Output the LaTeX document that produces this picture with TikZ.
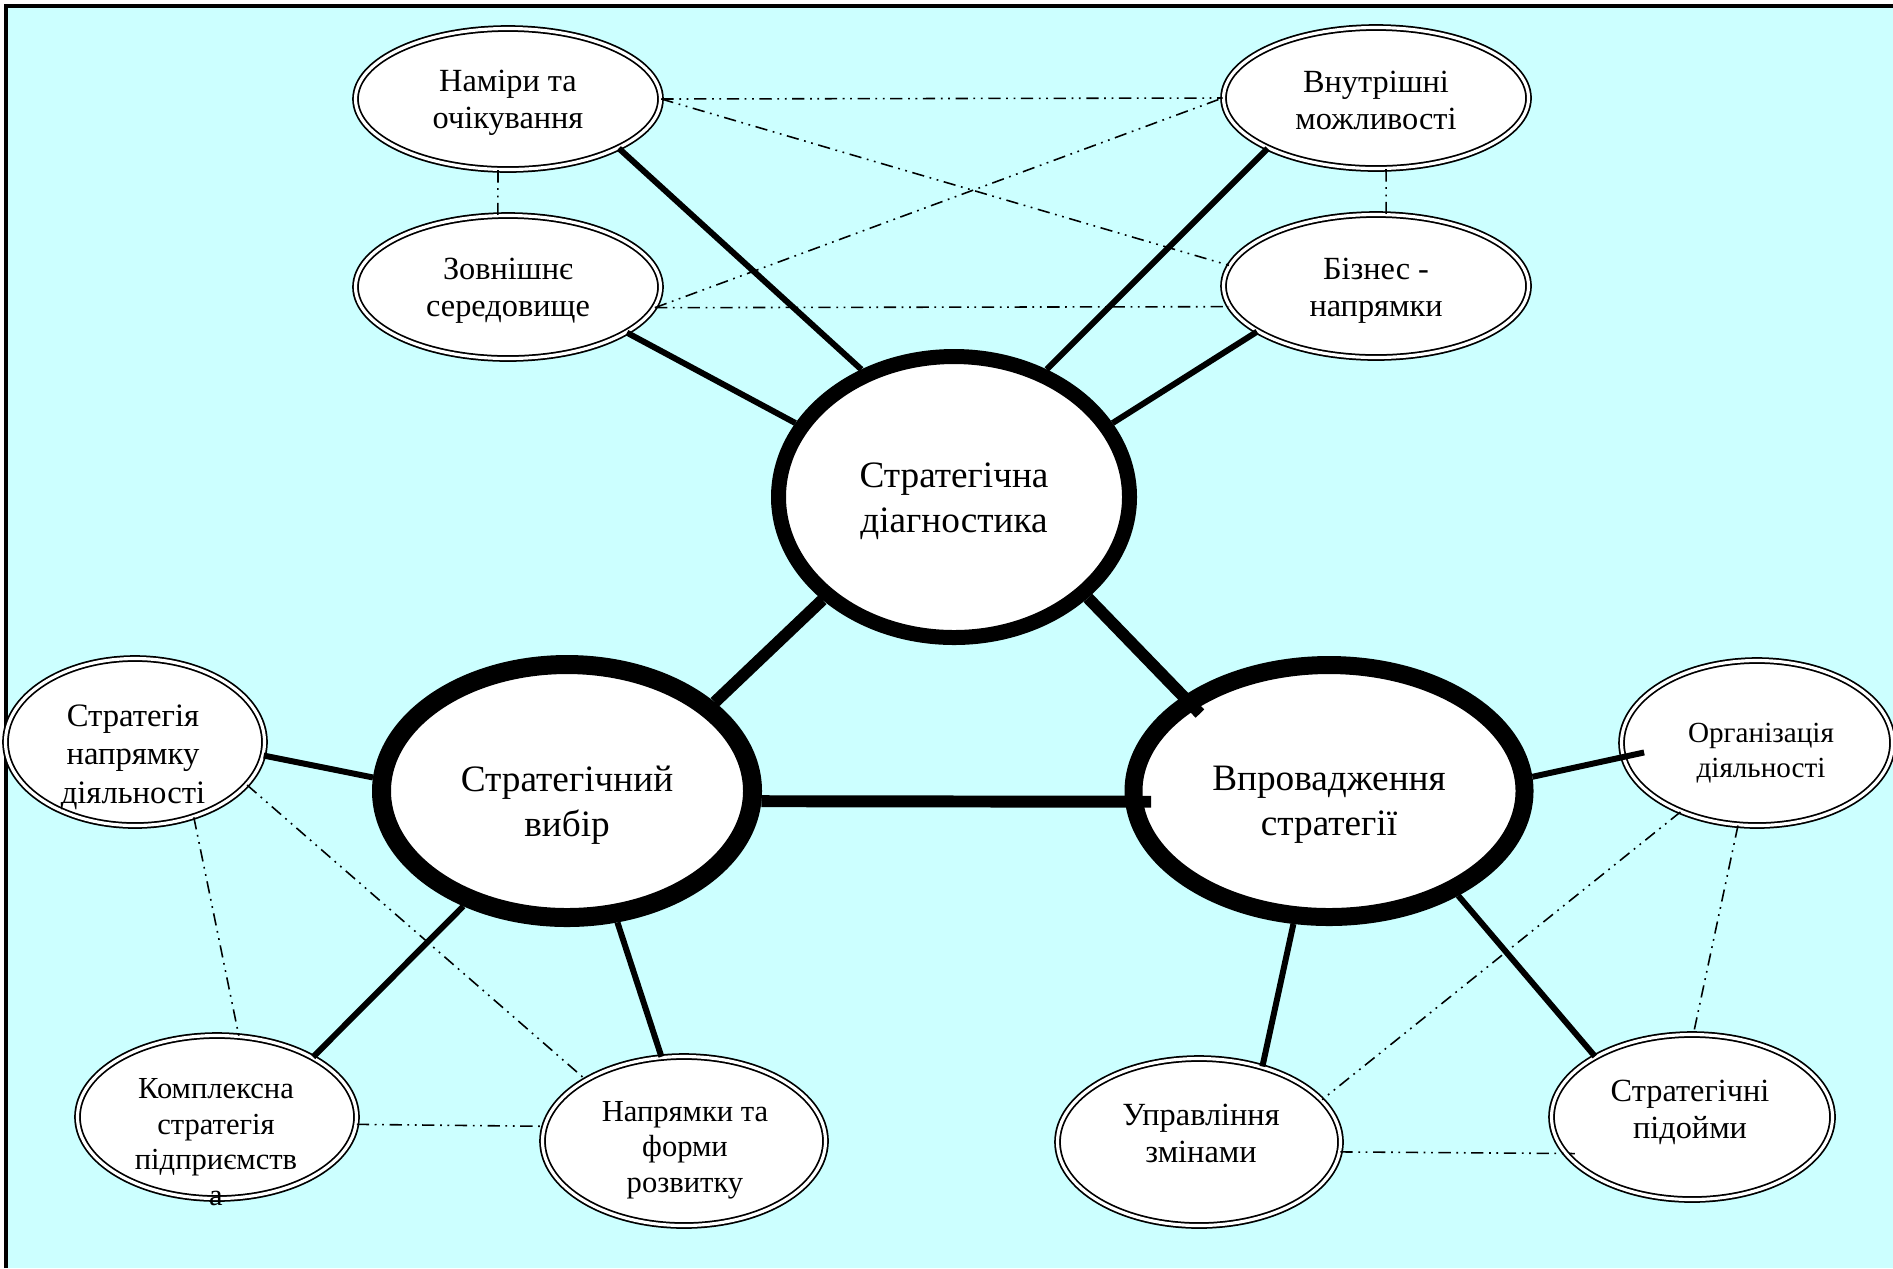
\documentclass[tikz,border=0pt]{standalone}
\usepackage{fontspec}
\setmainfont{Liberation Serif}
\usetikzlibrary{shapes.geometric}
\definecolor{bgcyan}{RGB}{204,255,255}
\tikzset{
  sat/.style={ellipse, draw, double=white, double distance=0.9pt, line width=0.5pt, fill=white, inner sep=0pt},
  hub/.style={ellipse, draw, fill=white, inner sep=0pt},
  txt/.style={align=center, inner sep=0pt},
  spoke/.style={line width=1.7pt},
  bar/.style={line width=3.4pt},
  ddot/.style={line width=0.45pt, dash pattern=on 3.5pt off 1.6pt on 0.5pt off 1.6pt on 0.5pt off 1.6pt},
  ftop/.style={font=\fontsize{9.2pt}{10.5pt}\selectfont},
  fhub/.style={font=\fontsize{10.6pt}{12.7pt}\selectfont},
  fsone/.style={font=\fontsize{9.3pt}{11pt}\selectfont},
  fsmall/.style={font=\fontsize{8.7pt}{10.1pt}\selectfont},
  fo/.style={font=\fontsize{8.3pt}{9.9pt}\selectfont},
}
\begin{document}
\begin{tikzpicture}[x=0.1mm,y=-0.1mm]
\useasboundingbox (0,0) rectangle (1893,1268);
\fill[bgcyan] (6,6) rectangle (1893,1268);
\draw[line width=0.4mm] (6,1268) -- (6,6) -- (1893,6);

% hubs
\node[hub, line width=1.5mm, minimum width=35.1mm, minimum height=28.1mm] (D) at (954,497) {};
\node[hub, line width=1.9mm, minimum width=37.1mm, minimum height=25.3mm] (V) at (567,791) {};
\node[hub, line width=1.8mm, minimum width=39.1mm, minimum height=25.2mm] (P) at (1329,791) {};

% satellites
\node[sat, minimum width=30.5mm, minimum height=14.1mm] (N1) at (508,99) {};
\node[sat, minimum width=30.5mm, minimum height=14.3mm] (N2) at (508,287) {};
\node[sat, minimum width=30.5mm, minimum height=14.1mm] (N3) at (1376,98) {};
\node[sat, minimum width=30.5mm, minimum height=14.3mm] (N4) at (1376,286) {};
\node[sat, minimum width=25.9mm, minimum height=16.7mm] (S1) at (135,742) {};
\node[sat, minimum width=27.9mm, minimum height=16.3mm] (K) at (217,1117) {};
\node[sat, minimum width=28.3mm, minimum height=16.9mm] (NF) at (684,1141) {};
\node[sat, minimum width=27.1mm, minimum height=16.5mm] (O) at (1757,743) {};
\node[sat, minimum width=28.3mm, minimum height=16.7mm] (U) at (1199,1142) {};
\node[sat, minimum width=28.1mm, minimum height=16.5mm] (SP) at (1692,1117) {};

% spokes
\draw[spoke] (N1.-24) -- (D.126);
\draw[spoke] (N2.-21) -- (D.155);
\draw[spoke] (N3.-155) -- (D.54.5);
\draw[spoke] (N4.-159) -- (D.25);
\draw[bar] (D.-142) -- (V.31.6);
\draw[bar, shorten >=-2.4mm] (D.-37) -- (P.147.6);
\draw[bar, shorten >=-2.6mm] (V.-3) -- (P.183);
\draw[spoke] (V.176) -- (S1.-6);
\draw[spoke] (V.-132) -- (K.32);
\draw[spoke] (V.-69) -- (NF.105);
\draw[spoke, shorten >=-2.2mm] (P.4) -- (O.186);
\draw[spoke] (P.-105) -- (U.50);
\draw[spoke] (P.-39.4) -- (SP.148.6);

% dash-dot-dot links
\draw[ddot] (N1.0) -- (N3.180);
\draw[ddot] (N1.0) -- (N4.172);
\draw[ddot] (N2.-8) -- (N3.180);
\draw[ddot] (N2.-8) -- (N4.188);
\draw[ddot] (N1.-98) -- (N2.98);
\draw[ddot] (N3.-82) -- (N4.82);
\draw[ddot] (S1.-52) -- (K.75);
\draw[ddot] (S1.-21) -- (NF.148);
\draw[ddot] (K.-3) -- (NF.174);
\draw[ddot] (O.-138) -- (U.19);
\draw[ddot] (O.-103) -- (SP.89);
\draw[ddot, shorten >=-1mm] (U.-4) -- (SP.196);

% texts
\node[txt, ftop] (N1t) at (508,103) {Наміри та\\очікування};
\node[txt, ftop] (N2t) at (508,291) {Зовнішнє\\середовище};
\node[txt, ftop] (N3t) at (1376,100) {Внутрішні\\можливості};
\node[txt, ftop] (N4t) at (1376,291) {Бізнес -\\напрямки};
\node[txt, fhub] (Dt) at (954,501) {Стратегічна\\діагностика};
\node[txt, fhub] (Vt) at (567,805) {Стратегічний\\вибір};
\node[txt, fhub] (Pt) at (1329,805) {Впровадження\\стратегії};
\node[txt, fsone] (S1t) at (133,757) {Стратегія\\напрямку\\діяльності};
\node[txt, fsmall] (Kt) at (216,1142) {Комплексна\\стратегія\\підприємств\\а};
\node[txt, fsmall] (NFt) at (685,1150) {Напрямки та\\форми\\розвитку};
\node[txt, fo] (Ot) at (1761,753) {Організація\\діяльності};
\node[txt, ftop] (Ut) at (1201,1133) {Управління\\змінами};
\node[txt, ftop] (SPt) at (1690,1112) {Стратегічні\\підойми};
\end{tikzpicture}
\end{document}
